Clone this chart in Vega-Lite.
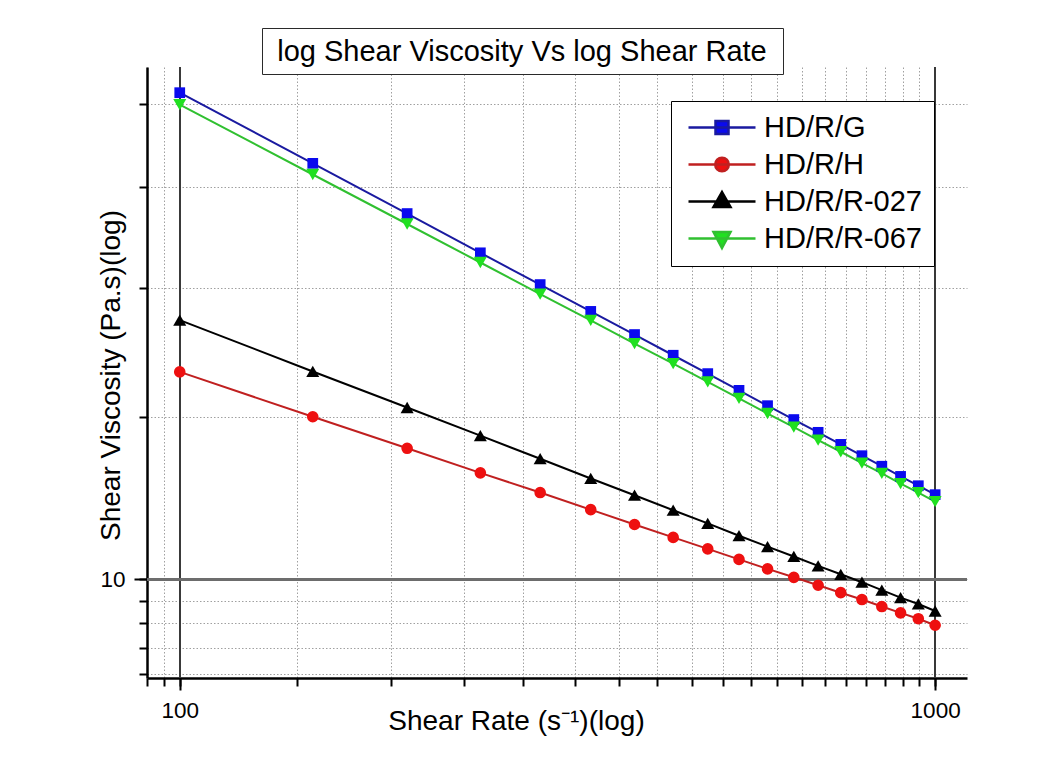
{
  "$schema": "https://vega.github.io/schema/vega-lite/v6.json",
  "autosize": {"type": "none"},
  "padding": {"left": 147, "top": 67, "right": 92, "bottom": 86},
  "width": 820,
  "height": 611,
  "background": "#ffffff",
  "title": {
    "text": "log Shear Viscosity Vs log Shear Rate",
    "font": "Liberation Sans",
    "fontSize": 29,
    "fontWeight": "normal",
    "color": "#000000",
    "anchor": "middle",
    "frame": "group",
    "dx": -35,
    "dy": 69,
    "offset": 7,
    "baseline": "alphabetic",
    "zindex": 2
  },
  "data": {
    "values": [
      {"rate": 100, "viscosity": 22.25, "sample": "HD/R/G"},
      {"rate": 150, "viscosity": 19.81, "sample": "HD/R/G"},
      {"rate": 200, "viscosity": 18.24, "sample": "HD/R/G"},
      {"rate": 250, "viscosity": 17.10, "sample": "HD/R/G"},
      {"rate": 300, "viscosity": 16.23, "sample": "HD/R/G"},
      {"rate": 350, "viscosity": 15.53, "sample": "HD/R/G"},
      {"rate": 400, "viscosity": 14.95, "sample": "HD/R/G"},
      {"rate": 450, "viscosity": 14.45, "sample": "HD/R/G"},
      {"rate": 500, "viscosity": 14.02, "sample": "HD/R/G"},
      {"rate": 550, "viscosity": 13.64, "sample": "HD/R/G"},
      {"rate": 600, "viscosity": 13.30, "sample": "HD/R/G"},
      {"rate": 650, "viscosity": 13.00, "sample": "HD/R/G"},
      {"rate": 700, "viscosity": 12.73, "sample": "HD/R/G"},
      {"rate": 750, "viscosity": 12.48, "sample": "HD/R/G"},
      {"rate": 800, "viscosity": 12.25, "sample": "HD/R/G"},
      {"rate": 850, "viscosity": 12.04, "sample": "HD/R/G"},
      {"rate": 900, "viscosity": 11.84, "sample": "HD/R/G"},
      {"rate": 950, "viscosity": 11.66, "sample": "HD/R/G"},
      {"rate": 1000, "viscosity": 11.49, "sample": "HD/R/G"},
      {"rate": 100, "viscosity": 14.06, "sample": "HD/R/H"},
      {"rate": 150, "viscosity": 13.06, "sample": "HD/R/H"},
      {"rate": 200, "viscosity": 12.40, "sample": "HD/R/H"},
      {"rate": 250, "viscosity": 11.91, "sample": "HD/R/H"},
      {"rate": 300, "viscosity": 11.53, "sample": "HD/R/H"},
      {"rate": 350, "viscosity": 11.21, "sample": "HD/R/H"},
      {"rate": 400, "viscosity": 10.94, "sample": "HD/R/H"},
      {"rate": 450, "viscosity": 10.71, "sample": "HD/R/H"},
      {"rate": 500, "viscosity": 10.51, "sample": "HD/R/H"},
      {"rate": 550, "viscosity": 10.33, "sample": "HD/R/H"},
      {"rate": 600, "viscosity": 10.17, "sample": "HD/R/H"},
      {"rate": 650, "viscosity": 10.03, "sample": "HD/R/H"},
      {"rate": 700, "viscosity": 9.90, "sample": "HD/R/H"},
      {"rate": 750, "viscosity": 9.78, "sample": "HD/R/H"},
      {"rate": 800, "viscosity": 9.67, "sample": "HD/R/H"},
      {"rate": 850, "viscosity": 9.56, "sample": "HD/R/H"},
      {"rate": 900, "viscosity": 9.46, "sample": "HD/R/H"},
      {"rate": 950, "viscosity": 9.37, "sample": "HD/R/H"},
      {"rate": 1000, "viscosity": 9.27, "sample": "HD/R/H"},
      {"rate": 100, "viscosity": 15.31, "sample": "HD/R/R-027"},
      {"rate": 150, "viscosity": 14.07, "sample": "HD/R/R-027"},
      {"rate": 200, "viscosity": 13.26, "sample": "HD/R/R-027"},
      {"rate": 250, "viscosity": 12.66, "sample": "HD/R/R-027"},
      {"rate": 300, "viscosity": 12.19, "sample": "HD/R/R-027"},
      {"rate": 350, "viscosity": 11.80, "sample": "HD/R/R-027"},
      {"rate": 400, "viscosity": 11.48, "sample": "HD/R/R-027"},
      {"rate": 450, "viscosity": 11.20, "sample": "HD/R/R-027"},
      {"rate": 500, "viscosity": 10.96, "sample": "HD/R/R-027"},
      {"rate": 550, "viscosity": 10.74, "sample": "HD/R/R-027"},
      {"rate": 600, "viscosity": 10.55, "sample": "HD/R/R-027"},
      {"rate": 650, "viscosity": 10.38, "sample": "HD/R/R-027"},
      {"rate": 700, "viscosity": 10.22, "sample": "HD/R/R-027"},
      {"rate": 750, "viscosity": 10.08, "sample": "HD/R/R-027"},
      {"rate": 800, "viscosity": 9.95, "sample": "HD/R/R-027"},
      {"rate": 850, "viscosity": 9.82, "sample": "HD/R/R-027"},
      {"rate": 900, "viscosity": 9.70, "sample": "HD/R/R-027"},
      {"rate": 950, "viscosity": 9.60, "sample": "HD/R/R-027"},
      {"rate": 1000, "viscosity": 9.49, "sample": "HD/R/R-027"},
      {"rate": 100, "viscosity": 21.82, "sample": "HD/R/R-067"},
      {"rate": 150, "viscosity": 19.45, "sample": "HD/R/R-067"},
      {"rate": 200, "viscosity": 17.93, "sample": "HD/R/R-067"},
      {"rate": 250, "viscosity": 16.83, "sample": "HD/R/R-067"},
      {"rate": 300, "viscosity": 15.98, "sample": "HD/R/R-067"},
      {"rate": 350, "viscosity": 15.30, "sample": "HD/R/R-067"},
      {"rate": 400, "viscosity": 14.73, "sample": "HD/R/R-067"},
      {"rate": 450, "viscosity": 14.25, "sample": "HD/R/R-067"},
      {"rate": 500, "viscosity": 13.83, "sample": "HD/R/R-067"},
      {"rate": 550, "viscosity": 13.46, "sample": "HD/R/R-067"},
      {"rate": 600, "viscosity": 13.13, "sample": "HD/R/R-067"},
      {"rate": 650, "viscosity": 12.84, "sample": "HD/R/R-067"},
      {"rate": 700, "viscosity": 12.57, "sample": "HD/R/R-067"},
      {"rate": 750, "viscosity": 12.33, "sample": "HD/R/R-067"},
      {"rate": 800, "viscosity": 12.10, "sample": "HD/R/R-067"},
      {"rate": 850, "viscosity": 11.90, "sample": "HD/R/R-067"},
      {"rate": 900, "viscosity": 11.70, "sample": "HD/R/R-067"},
      {"rate": 950, "viscosity": 11.53, "sample": "HD/R/R-067"},
      {"rate": 1000, "viscosity": 11.36, "sample": "HD/R/R-067"}
    ]
  },
  "resolve": {"axis": {"x": "independent", "y": "independent"}},
  "layer": [
    {
      "mark": {"type": "rule", "color": "#3a3a3a", "strokeWidth": 1.4},
      "encoding": {
        "x": {
          "datum": 100,
          "type": "quantitative",
          "axis": {"orient": "bottom", "values": [100, 1000], "tickSize": 12, "tickWidth": 2, "tickColor": "#000000", "labels": false, "domain": false, "grid": false, "title": null}
        }
      }
    },
    {
      "mark": {"type": "rule", "color": "#3a3a3a", "strokeWidth": 1.4},
      "encoding": {"x": {"datum": 1000, "type": "quantitative", "axis": null}}
    },
    {
      "mark": {"type": "rule", "color": "#6e6e6e", "strokeWidth": 2},
      "encoding": {
        "y": {
          "datum": 10,
          "type": "quantitative",
          "axis": {"orient": "left", "values": [10], "tickSize": 13, "tickWidth": 2, "tickColor": "#000000", "labels": false, "domain": false, "grid": false, "title": null}
        }
      }
    },
    {
      "encoding": {
        "x": {
          "field": "rate",
          "type": "quantitative",
          "scale": {"type": "log", "domain": [90.5, 1102], "nice": false},
          "axis": {
            "orient": "bottom",
            "title": "Shear Rate (s⁻¹)(log)",
            "values": [90.5, 95.4, 100, 142.9, 190.4, 238, 285.1, 333.8, 381.7, 429, 476.4, 523.6, 570.2, 618.4, 666.2, 715.2, 762.4, 810.5, 858.5, 906.3, 953.3, 1000],
            "grid": true,
            "gridColor": "#a0a0a0",
            "gridDash": [1.5, 2],
            "gridWidth": 1,
            "labelExpr": "datum.value === 100 ? '100' : (datum.value === 1000 ? '1000' : '')",
            "labelFont": "Liberation Sans",
            "labelFontSize": 22.5,
            "labelColor": "#000000",
            "labelPadding": 13,
            "labelOverlap": false,
            "labelFlush": false,
            "tickSize": 8,
            "tickColor": "#000000",
            "tickWidth": 2,
            "domainColor": "#000000",
            "domainWidth": 2.5,
            "titleFont": "Liberation Sans",
            "titleFontSize": 28,
            "titleFontWeight": "normal",
            "titleColor": "#000000",
            "titleX": 369,
            "titleY": 51,
            "titleBaseline": "alphabetic",
            "titleAlign": "center"
          }
        },
        "y": {
          "field": "viscosity",
          "type": "quantitative",
          "scale": {"type": "log", "domain": [8.5, 23.21], "nice": false},
          "axis": {
            "orient": "left",
            "title": "Shear Viscosity (Pa.s)(log)",
            "values": [8.563, 8.931, 9.306, 9.649, 10, 13.05, 16.15, 19.06, 21.83],
            "grid": true,
            "gridColor": "#a0a0a0",
            "gridDash": [1.5, 2],
            "gridWidth": 1,
            "labelExpr": "datum.value === 10 ? '10' : ''",
            "labelFont": "Liberation Sans",
            "labelFontSize": 22.5,
            "labelColor": "#000000",
            "labelPadding": 14,
            "labelOverlap": false,
            "tickSize": 8,
            "tickColor": "#000000",
            "tickWidth": 2,
            "domainColor": "#000000",
            "domainWidth": 2.5,
            "titleFont": "Liberation Sans",
            "titleFontSize": 28,
            "titleFontWeight": "normal",
            "titleColor": "#000000",
            "titleAngle": -90,
            "titleX": -28,
            "titleY": 308,
            "titleBaseline": "alphabetic",
            "titleAlign": "center"
          }
        }
      },
      "layer": [
        {
          "transform": [{"filter": "datum.rate > 100000"}],
          "mark": {"type": "point", "filled": true, "opacity": 1, "strokeWidth": 2.5},
          "encoding": {
            "fill": {
              "field": "sample",
              "type": "nominal",
              "scale": {"domain": ["HD/R/G", "HD/R/H", "HD/R/R-027", "HD/R/R-067"], "range": ["#0a0aee", "#ee1010", "#000000", "#20e020"]},
              "legend": {
                "title": null,
                "orient": "none",
                "legendX": 524,
                "legendY": 34,
                "direction": "vertical",
                "strokeColor": "#000000",
                "fillColor": "#ffffff",
                "padding": 12,
                "labelFont": "Liberation Sans",
                "labelFontSize": 29,
                "labelColor": "#000000",
                "labelLimit": 400,
                "symbolSize": 400,
                "symbolStrokeWidth": 2.5,
                "symbolOpacity": 1,
                "symbolOffset": 24.5,
                "labelOffset": 27.5,
                "rowPadding": 7
              }
            },
            "stroke": {
              "field": "sample",
              "type": "nominal",
              "scale": {"domain": ["HD/R/G", "HD/R/H", "HD/R/R-027", "HD/R/R-067"], "range": ["#1a1aa0", "#c02020", "#000000", "#30c030"]}
            },
            "shape": {
              "field": "sample",
              "type": "nominal",
              "scale": {
                "domain": ["HD/R/G", "HD/R/H", "HD/R/R-027", "HD/R/R-067"],
                "range": [
                  "M-3.35,0H3.35M-0.65,-0.65H0.65V0.65H-0.65Z",
                  "M-3.35,0H3.35M0.68,0A0.68,0.68,0,1,1,-0.68,0A0.68,0.68,0,1,1,0.68,0Z",
                  "M-3.35,0H3.35M0,-0.95L0.85,0.55H-0.85Z",
                  "M-3.35,0H3.35M0,0.95L0.85,-0.65H-0.85Z"
                ]
              }
            },
            "opacity": {
              "field": "rate",
              "type": "quantitative",
              "scale": {"domain": [0, 1000]},
              "legend": {
                "title": null,
                "orient": "none",
                "legendX": 115,
                "legendY": -39,
                "direction": "vertical",
                "values": [100],
                "labelExpr": "' '",
                "labelFontSize": 20,
                "labelLimit": 1000,
                "symbolSize": 1,
                "symbolOpacity": 0,
                "symbolFillColor": "transparent",
                "symbolStrokeColor": "transparent",
                "symbolStrokeWidth": 0,
                "symbolOffset": 0,
                "labelOffset": 475,
                "padding": 13,
                "strokeColor": "#2a2a2a",
                "fillColor": "#ffffff",
                "zindex": 0
              }
            }
          }
        },
        {
          "mark": {"type": "line", "strokeWidth": 2},
          "encoding": {
            "stroke": {
              "field": "sample",
              "type": "nominal",
              "scale": {"domain": ["HD/R/G", "HD/R/H", "HD/R/R-027", "HD/R/R-067"], "range": ["#1a1aa0", "#c02020", "#000000", "#30c030"]}
            }
          }
        },
        {
          "transform": [{"filter": "datum.sample === 'HD/R/G'"}],
          "mark": {"type": "point", "shape": "square", "filled": true, "color": "#0a0aee", "size": 115, "opacity": 1}
        },
        {
          "transform": [{"filter": "datum.sample === 'HD/R/H'"}],
          "mark": {"type": "point", "shape": "circle", "filled": true, "color": "#ee1010", "size": 135, "opacity": 1}
        },
        {
          "transform": [{"filter": "datum.sample === 'HD/R/R-027'"}],
          "mark": {"type": "point", "shape": "triangle-up", "filled": true, "color": "#000000", "size": 170, "opacity": 1}
        },
        {
          "transform": [{"filter": "datum.sample === 'HD/R/R-067'"}],
          "mark": {"type": "point", "shape": "triangle-down", "filled": true, "color": "#20e020", "size": 170, "opacity": 1}
        }
      ]
    }
  ],
  "config": {
    "font": "Liberation Sans",
    "view": {"stroke": null}
  }
}
